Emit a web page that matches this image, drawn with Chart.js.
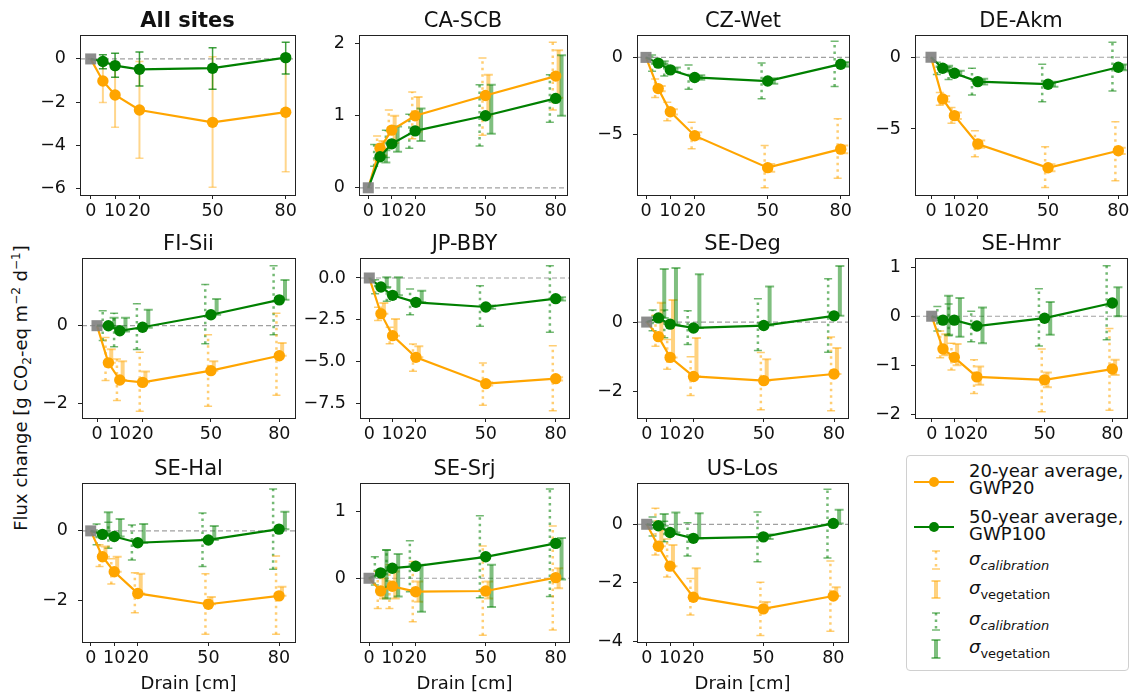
<!DOCTYPE html>
<html>
<head>
<meta charset="utf-8">
<script src="https://cdn.jsdelivr.net/npm/chart.js@4.4.0/dist/chart.umd.min.js"></script>
<style>
  body { margin: 0; width: 1132px; height: 694px; overflow: hidden; position: relative; background: #fff;
         font-family: "DejaVu Sans", sans-serif; color: #111; }
  canvas { position: absolute; }
  #ylabel { position: absolute; left: 20px; top: 388px; transform: translate(-50%, -50%) rotate(-90deg);
            white-space: nowrap; font-size: 18px; }
  #ylabel sub, #ylabel sup { font-size: 12px; line-height: 0; }
  #legende { position: absolute; left: 906px; top: 455px; width: 221px; height: 214px;
             border: 1px solid #d0d0d0; border-radius: 4px; background: #fff; }
  #legende svg { position: absolute; left: 0; top: 0; }
  .lg { position: absolute; left: 62px; font-size: 18px; line-height: 17px; white-space: nowrap; }
  .sig { font-style: italic; font-size: 18px; }
  .sig sub { font-size: 13px; }
</style>
</head>
<body>
<div id="ylabel">Flux change [g CO<sub>2</sub>-eq m<sup>−2</sup> d<sup>−1</sup>]</div>
<div id="legende">
  <svg width="221" height="214">
    <line x1="7" y1="26" x2="47" y2="26" stroke="#ffa500" stroke-width="2.2"/>
    <circle cx="27" cy="26" r="5" fill="#ffa500"/>
    <line x1="7" y1="71" x2="47" y2="71" stroke="#008000" stroke-width="2.2"/>
    <circle cx="27" cy="71" r="5" fill="#008000"/>
    <g stroke="#ffa500" stroke-opacity="0.55">
      <line x1="29" y1="95" x2="29" y2="113" stroke-width="2.5" stroke-dasharray="2.5 4"/>
      <line x1="25" y1="95" x2="33" y2="95" stroke-width="1.5"/>
      <line x1="25" y1="113" x2="33" y2="113" stroke-width="1.5"/>
    </g>
    <g stroke="#ffa500" stroke-opacity="0.5">
      <line x1="29" y1="125" x2="29" y2="142" stroke-width="4"/>
      <line x1="24.5" y1="125" x2="33.5" y2="125" stroke-width="2"/>
      <line x1="24.5" y1="142" x2="33.5" y2="142" stroke-width="2"/>
    </g>
    <g stroke="#008000" stroke-opacity="0.55">
      <line x1="29" y1="157" x2="29" y2="174" stroke-width="2.5" stroke-dasharray="2.5 4"/>
      <line x1="25" y1="157" x2="33" y2="157" stroke-width="1.5"/>
      <line x1="25" y1="174" x2="33" y2="174" stroke-width="1.5"/>
    </g>
    <g stroke="#008000" stroke-opacity="0.5">
      <line x1="29" y1="184" x2="29" y2="202" stroke-width="4"/>
      <line x1="24.5" y1="184" x2="33.5" y2="184" stroke-width="2"/>
      <line x1="24.5" y1="202" x2="33.5" y2="202" stroke-width="2"/>
    </g>
  </svg>
  <div class="lg" style="top:6px">20-year average,<br>GWP20</div>
  <div class="lg" style="top:52px">50-year average,<br>GWP100</div>
  <div class="lg" style="top:94px"><span class="sig">σ<sub>calibration</sub></span></div>
  <div class="lg" style="top:123px"><span class="sig">σ<sub style="font-style:normal">vegetation</sub></span></div>
  <div class="lg" style="top:154px"><span class="sig">σ<sub>calibration</sub></span></div>
  <div class="lg" style="top:182px"><span class="sig">σ<sub style="font-style:normal">vegetation</sub></span></div>
</div>

<script>
// drainage depths [cm] of the scenarios (the reference point sits at 0)
const drains = [5, 10, 20, 50, 80];
const xTicks = [0, 10, 20, 50, 80];

// All sites : mean with one total spread per series
const allOrange = [-1.02, -1.67, -2.37, -2.94, -2.47];
const allGreen = [-0.12, -0.31, -0.48, -0.43, 0.06];
const allOrangeErr = [[-2.02, -0.02], [-3.17, -0.17], [-4.60, -0.12], [-5.95, 0.10], [-5.23, 0.20]];
const allGreenErr = [[-0.46, 0.19], [-0.85, 0.26], [-1.25, 0.32], [-1.41, 0.52], [-0.70, 0.77]];
const allTicks = [0, -2, -4, -6];

// CA-SCB
const caScbOrange = [0.55, 0.80, 1.00, 1.28, 1.55];
const caScbGreen = [0.43, 0.61, 0.79, 1.00, 1.24];
const caScbOrangeCal = [[0.38, 0.72], [0.55, 1.08], [0.68, 1.33], [0.73, 1.80], [1.08, 2.02]];
const caScbOrangeVeg = [[0.45, 0.65], [0.62, 1.00], [0.78, 1.26], [1.00, 1.57], [1.25, 1.91]];
const caScbGreenCal = [[0.30, 0.60], [0.42, 0.80], [0.55, 1.02], [0.58, 1.43], [0.91, 1.57]];
const caScbGreenVeg = [[0.35, 0.52], [0.50, 0.85], [0.65, 1.10], [0.75, 1.43], [1.00, 1.84]];
const caScbTicks = [0, 1, 2];

// CZ-Wet
const czWetOrange = [-2.02, -3.52, -5.07, -7.14, -5.94];
const czWetGreen = [-0.37, -0.81, -1.30, -1.53, -0.44];
const czWetOrangeCal = [[-2.60, -1.40], [-4.10, -2.90], [-5.92, -4.20], [-8.44, -5.70], [-7.83, -3.98]];
const czWetOrangeVeg = [[-2.20, -1.85], [-3.70, -3.35], [-5.30, -4.85], [-7.40, -6.90], [-6.20, -5.70]];
const czWetGreenCal = [[-0.90, 0.15], [-1.20, -0.40], [-2.07, -0.50], [-2.67, -0.37], [-1.89, 1.04]];
const czWetGreenVeg = [[-0.50, -0.25], [-0.95, -0.65], [-1.45, -1.15], [-1.70, -1.35], [-0.60, -0.30]];
const czWetTicks = [0, -5];

// DE-Akm
const deAkmOrange = [-2.91, -4.07, -6.05, -7.70, -6.52];
const deAkmGreen = [-0.77, -1.12, -1.70, -1.88, -0.70];
const deAkmOrangeCal = [[-3.35, -2.45], [-4.60, -3.50], [-6.94, -5.12], [-9.07, -6.24], [-8.60, -4.49]];
const deAkmOrangeVeg = [[-3.10, -2.70], [-4.30, -3.85], [-6.30, -5.80], [-7.95, -7.45], [-6.75, -6.30]];
const deAkmGreenCal = [[-1.20, -0.35], [-1.55, -0.70], [-2.63, -0.77], [-3.10, -0.49], [-2.35, 1.05]];
const deAkmGreenVeg = [[-0.90, -0.60], [-1.30, -0.95], [-1.90, -1.50], [-2.05, -1.70], [-0.90, -0.50]];
const deAkmTicks = [0, -5];

// FI-Sii
const fiSiiOrange = [-0.95, -1.39, -1.45, -1.15, -0.77];
const fiSiiGreen = [0.00, -0.13, -0.04, 0.28, 0.66];
const fiSiiOrangeCal = [[-1.40, -0.30], [-1.91, -0.85], [-2.19, -0.68], [-2.06, -0.23], [-1.78, 0.32]];
const fiSiiOrangeVeg = [[-0.95, -0.60], [-1.39, -0.91], [-1.45, -1.17], [-1.15, -0.91], [-0.77, -0.44]];
const fiSiiGreenCal = [[-0.38, 0.38], [-0.54, 0.32], [-0.61, 0.56], [-0.46, 1.05], [-0.23, 1.53]];
const fiSiiGreenVeg = [[-0.05, 0.20], [-0.15, 0.20], [-0.05, 0.41], [0.28, 0.68], [0.66, 1.17]];
const fiSiiTicks = [0, -2];

// JP-BBY
const jpBbyOrange = [-2.14, -3.46, -4.76, -6.34, -6.04];
const jpBbyGreen = [-0.54, -1.04, -1.46, -1.74, -1.24];
const jpBbyOrangeCal = [[-2.55, -1.75], [-3.95, -2.95], [-5.60, -3.96], [-7.64, -5.10], [-7.96, -4.06]];
const jpBbyOrangeVeg = [[-2.14, -1.50], [-3.46, -2.46], [-4.76, -4.10], [-6.45, -6.25], [-6.15, -5.95]];
const jpBbyGreenCal = [[-0.95, -0.10], [-1.40, -0.60], [-2.20, -0.66], [-2.90, -0.46], [-3.26, 0.74]];
const jpBbyGreenVeg = [[-0.54, 0.04], [-1.04, 0.04], [-1.46, -0.76], [-1.85, -1.65], [-1.35, -1.15]];
const jpBbyTicks = [0, -2.5, -5, -7.5];

// SE-Deg
const seDegOrange = [-0.42, -1.02, -1.57, -1.69, -1.50];
const seDegGreen = [0.12, -0.06, -0.17, -0.10, 0.18];
const seDegOrangeCal = [[-0.70, 0.20], [-1.36, -0.50], [-2.12, -1.00], [-2.53, -0.88], [-2.56, -0.43]];
const seDegOrangeVeg = [[-0.42, 0.56], [-1.02, 0.64], [-1.57, -0.46], [-1.69, -1.07], [-1.50, -0.75]];
const seDegGreenCal = [[-0.25, 0.35], [-0.45, 0.35], [-0.65, 0.33], [-0.82, 0.67], [-0.87, 1.25]];
const seDegGreenVeg = [[0.12, 1.53], [-0.06, 1.56], [-0.17, 1.38], [-0.10, 1.03], [0.18, 1.62]];
const seDegTicks = [0, -2];

// SE-Hmr
const seHmrOrange = [-0.67, -0.84, -1.24, -1.30, -1.08];
const seHmrGreen = [-0.08, -0.08, -0.20, -0.04, 0.27];
const seHmrOrangeCal = [[-0.85, -0.30], [-1.10, -0.55], [-1.58, -0.89], [-1.95, -0.67], [-1.92, -0.25]];
const seHmrOrangeVeg = [[-0.80, -0.37], [-1.00, -0.57], [-1.40, -1.03], [-1.45, -1.15], [-1.20, -0.89]];
const seHmrGreenCal = [[-0.30, 0.20], [-0.40, 0.25], [-0.52, 0.10], [-0.61, 0.56], [-0.48, 1.03]];
const seHmrGreenVeg = [[-0.38, 0.42], [-0.42, 0.37], [-0.55, 0.18], [-0.38, 0.29], [0.00, 0.59]];
const seHmrTicks = [1, 0, -1, -2];

// SE-Hal
const seHalOrange = [-0.74, -1.17, -1.79, -2.10, -1.86];
const seHalGreen = [-0.10, -0.16, -0.34, -0.26, 0.05];
const seHalOrangeCal = [[-1.02, -0.40], [-1.52, -0.80], [-2.34, -1.20], [-2.96, -1.23], [-2.96, -0.72]];
const seHalOrangeVeg = [[-0.74, -0.45], [-1.17, -0.74], [-1.79, -1.23], [-2.10, -1.89], [-1.86, -1.60]];
const seHalGreenCal = [[-0.40, 0.20], [-0.50, 0.25], [-0.83, 0.17], [-1.02, 0.51], [-1.10, 1.20]];
const seHalGreenVeg = [[-0.10, 0.53], [-0.16, 0.34], [-0.34, 0.20], [-0.26, 0.14], [0.05, 0.55]];
const seHalTicks = [0, -2];

// SE-Srj
const seSrjOrange = [-0.19, -0.12, -0.20, -0.19, 0.01];
const seSrjGreen = [0.08, 0.15, 0.18, 0.32, 0.52];
const seSrjOrangeCal = [[-0.45, 0.10], [-0.45, 0.20], [-0.65, 0.25], [-0.85, 0.48], [-0.77, 0.78]];
const seSrjOrangeVeg = [[-0.30, 0.00], [-0.30, 0.10], [-0.35, -0.05], [-0.30, -0.05], [-0.15, 0.15]];
const seSrjGreenCal = [[-0.10, 0.32], [-0.15, 0.42], [-0.20, 0.56], [-0.29, 0.93], [-0.27, 1.33]];
const seSrjGreenVeg = [[-0.30, 0.42], [-0.27, 0.36], [-0.50, 0.20], [-0.43, 0.20], [-0.02, 0.60]];
const seSrjTicks = [1, 0];

// US-Los
const usLosOrange = [-0.75, -1.43, -2.49, -2.89, -2.45];
const usLosGreen = [-0.05, -0.28, -0.48, -0.43, 0.03];
const usLosOrangeCal = [[-1.05, 0.55], [-1.80, -0.50], [-3.10, -1.85], [-3.80, -1.98], [-3.65, -1.25]];
const usLosOrangeVeg = [[-0.75, -0.20], [-1.43, -0.71], [-2.49, -1.50], [-2.89, -2.65], [-2.45, -2.15]];
const usLosGreenCal = [[-0.40, 0.25], [-0.60, 0.10], [-1.08, 0.05], [-1.28, 0.42], [-1.15, 1.20]];
const usLosGreenVeg = [[-0.05, 0.35], [-0.28, 0.40], [-0.48, 0.38], [-0.50, -0.35], [0.03, 0.50]];
const usLosTicks = [0, -2, -4];

const ORANGE = '#ffa500';
const GREEN = '#008000';
const FONT = '"DejaVu Sans", sans-serif';

// horizontal shift of each error bar family, in drain units
const OFFSETS = { greenCal: -2.5, orangeCal: -1.25, orangeVeg: 1.25, greenVeg: 2.5 };

const STYLE_CAL = { width: 2.5, dash: [2.5, 4], alpha: 0.55, cap: 4, capWidth: 1.5 };
const STYLE_VEG = { width: 4, dash: [], alpha: 0.5, cap: 4.5, capWidth: 2 };
const STYLE_ALL_O = { width: 2, dash: [], alpha: 0.45, cap: 4, capWidth: 1.5 };
const STYLE_ALL_G = { width: 1.5, dash: [], alpha: 0.75, cap: 4, capWidth: 1.5 };

const sites = [
  { name: 'All sites', bold: true, orange: allOrange, green: allGreen, ticks: allTicks,
    bars: [[allOrangeErr, 0, ORANGE, STYLE_ALL_O], [allGreenErr, 0, GREEN, STYLE_ALL_G]] },
  { name: 'CA-SCB', orange: caScbOrange, green: caScbGreen, ticks: caScbTicks,
    cal: [caScbOrangeCal, caScbGreenCal], veg: [caScbOrangeVeg, caScbGreenVeg] },
  { name: 'CZ-Wet', orange: czWetOrange, green: czWetGreen, ticks: czWetTicks,
    cal: [czWetOrangeCal, czWetGreenCal], veg: [czWetOrangeVeg, czWetGreenVeg] },
  { name: 'DE-Akm', orange: deAkmOrange, green: deAkmGreen, ticks: deAkmTicks,
    cal: [deAkmOrangeCal, deAkmGreenCal], veg: [deAkmOrangeVeg, deAkmGreenVeg] },
  { name: 'FI-Sii', orange: fiSiiOrange, green: fiSiiGreen, ticks: fiSiiTicks,
    cal: [fiSiiOrangeCal, fiSiiGreenCal], veg: [fiSiiOrangeVeg, fiSiiGreenVeg] },
  { name: 'JP-BBY', orange: jpBbyOrange, green: jpBbyGreen, ticks: jpBbyTicks, decimals: 1,
    cal: [jpBbyOrangeCal, jpBbyGreenCal], veg: [jpBbyOrangeVeg, jpBbyGreenVeg] },
  { name: 'SE-Deg', orange: seDegOrange, green: seDegGreen, ticks: seDegTicks,
    cal: [seDegOrangeCal, seDegGreenCal], veg: [seDegOrangeVeg, seDegGreenVeg] },
  { name: 'SE-Hmr', orange: seHmrOrange, green: seHmrGreen, ticks: seHmrTicks,
    cal: [seHmrOrangeCal, seHmrGreenCal], veg: [seHmrOrangeVeg, seHmrGreenVeg] },
  { name: 'SE-Hal', orange: seHalOrange, green: seHalGreen, ticks: seHalTicks,
    cal: [seHalOrangeCal, seHalGreenCal], veg: [seHalOrangeVeg, seHalGreenVeg] },
  { name: 'SE-Srj', orange: seSrjOrange, green: seSrjGreen, ticks: seSrjTicks,
    cal: [seSrjOrangeCal, seSrjGreenCal], veg: [seSrjOrangeVeg, seSrjGreenVeg] },
  { name: 'US-Los', orange: usLosOrange, green: usLosGreen, ticks: usLosTicks,
    cal: [usLosOrangeCal, usLosGreenCal], veg: [usLosOrangeVeg, usLosGreenVeg] },
];

// plot rectangles [left, top, right, bottom], pixel of x=0 and x=80, y limits
const panelBoxes = [
  { box: [80, 35, 295, 195],   x0: 90.7,  x80: 285.7,  y: [-6.31, 1.11] },
  { box: [359, 35, 567, 195],  x0: 368.3, x80: 555.7,  y: [-0.10, 2.12] },
  { box: [637, 35, 849, 195],  x0: 646,   x80: 840.7,  y: [-8.91, 1.45] },
  { box: [915, 35, 1127, 195], x0: 931,   x80: 1118.3, y: [-9.6, 1.55] },
  { box: [82, 258, 295, 418],  x0: 97,    x80: 279.3,  y: [-2.36, 1.73] },
  { box: [360, 258, 569, 418], x0: 369.3, x80: 555.7,  y: [-8.4, 1.2] },
  { box: [637, 258, 848, 418], x0: 646.7, x80: 834,    y: [-2.77, 1.85] },
  { box: [915, 258, 1127, 418], x0: 931.7, x80: 1112.3, y: [-2.08, 1.19] },
  { box: [82, 483, 295, 642],  x0: 90.7,  x80: 279,    y: [-3.18, 1.37] },
  { box: [360, 483, 569, 642], x0: 369,   x80: 555.7,  y: [-0.95, 1.42] },
  { box: [637, 483, 848, 642], x0: 646.7, x80: 833.3,  y: [-4.02, 1.41] },
];

function drawBar(ctx, xs, ys, x, lo, hi, color, st) {
  const px = xs.getPixelForValue(x);
  const a = ys.getPixelForValue(lo);
  const b = ys.getPixelForValue(hi);
  ctx.save();
  ctx.strokeStyle = color;
  ctx.globalAlpha = st.alpha;
  ctx.lineWidth = st.width;
  ctx.setLineDash(st.dash);
  ctx.beginPath();
  ctx.moveTo(px, a);
  ctx.lineTo(px, b);
  ctx.stroke();
  ctx.setLineDash([]);
  ctx.lineWidth = st.capWidth;
  ctx.beginPath();
  ctx.moveTo(px - st.cap, a); ctx.lineTo(px + st.cap, a);
  ctx.moveTo(px - st.cap, b); ctx.lineTo(px + st.cap, b);
  ctx.stroke();
  ctx.restore();
}

// zero line, error bars, frame and title of one panel
const panelDecor = {
  id: 'panelDecor',
  beforeDatasetsDraw(chart) {
    const { ctx, chartArea: ca, scales: { x, y } } = chart;
    const site = chart.options.plugins.panelDecor.site;
    ctx.save();
    ctx.beginPath();
    ctx.rect(ca.left, ca.top, ca.right - ca.left, ca.bottom - ca.top);
    ctx.clip();
    const y0 = y.getPixelForValue(0);
    ctx.strokeStyle = 'rgba(128,128,128,0.75)';
    ctx.lineWidth = 1.2;
    ctx.setLineDash([5, 3]);
    ctx.beginPath();
    ctx.moveTo(ca.left, y0);
    ctx.lineTo(ca.right, y0);
    ctx.stroke();
    ctx.setLineDash([]);
    const families = [];
    if (site.bars) {
      site.bars.forEach(b => families.push(b));
    } else {
      families.push([site.cal[1], OFFSETS.greenCal, GREEN, STYLE_CAL]);
      families.push([site.cal[0], OFFSETS.orangeCal, ORANGE, STYLE_CAL]);
      families.push([site.veg[0], OFFSETS.orangeVeg, ORANGE, STYLE_VEG]);
      families.push([site.veg[1], OFFSETS.greenVeg, GREEN, STYLE_VEG]);
    }
    families.forEach(([vals, off, color, st]) => {
      vals.forEach((r, i) => drawBar(ctx, x, y, drains[i] + off, r[0], r[1], color, st));
    });
    ctx.restore();
  },
  afterDraw(chart) {
    const { ctx, chartArea: ca } = chart;
    const site = chart.options.plugins.panelDecor.site;
    ctx.save();
    ctx.strokeStyle = '#222';
    ctx.lineWidth = 1;
    ctx.strokeRect(Math.round(ca.left) + 0.5, Math.round(ca.top) + 0.5,
      Math.round(ca.right - ca.left), Math.round(ca.bottom - ca.top));
    ctx.fillStyle = '#111';
    ctx.font = (site.bold ? 'bold ' : '') + '21px ' + FONT;
    ctx.textAlign = 'center';
    ctx.textBaseline = 'alphabetic';
    ctx.fillText(site.name, (ca.left + ca.right) / 2, ca.top - 8);
    ctx.restore();
  }
};

function makePanel(site, lay, bottomRow) {
  const padTop = 40, axW = 75, axH = 55, padRight = 12;
  const [left, top, right, bottom] = lay.box;
  const w = axW + (right - left) + padRight;
  const h = padTop + (bottom - top) + axH;
  const cv = document.createElement('canvas');
  cv.width = w;
  cv.height = h;
  cv.style.left = (left - axW) + 'px';
  cv.style.top = (top - padTop) + 'px';
  cv.style.width = w + 'px';
  cv.style.height = h + 'px';
  document.body.appendChild(cv);

  const s = (lay.x80 - lay.x0) / 80;
  const xmin = -(lay.x0 - left) / s;
  const xmax = 80 + (right - lay.x80) / s;

  const orangePts = [{ x: 0, y: 0 }].concat(drains.map((d, i) => ({ x: d, y: site.orange[i] })));
  const greenPts = [{ x: 0, y: 0 }].concat(drains.map((d, i) => ({ x: d, y: site.green[i] })));
  const radii = [0, 5.7, 5.7, 5.7, 5.7, 5.7];
  const dec = site.decimals || 0;

  new Chart(cv, {
    type: 'line',
    data: {
      datasets: [
        { data: [{ x: 0, y: 0 }], pointStyle: 'rect', pointRadius: 7.8, showLine: false,
          backgroundColor: 'rgba(128,128,128,0.9)', borderWidth: 0 },
        { data: greenPts, borderColor: GREEN, backgroundColor: GREEN, borderWidth: 2.2,
          pointRadius: radii, pointBorderWidth: 0, tension: 0 },
        { data: orangePts, borderColor: ORANGE, backgroundColor: ORANGE, borderWidth: 2.2,
          pointRadius: radii, pointBorderWidth: 0, tension: 0 },
      ]
    },
    options: {
      responsive: false,
      animation: false,
      devicePixelRatio: 1,
      events: [],
      layout: { padding: { top: padTop, right: padRight, left: 0, bottom: 0 } },
      plugins: { legend: { display: false }, tooltip: { enabled: false }, panelDecor: { site } },
      scales: {
        x: {
          type: 'linear', min: xmin, max: xmax,
          afterFit: sc => { sc.height = axH; },
          afterBuildTicks: sc => { sc.ticks = xTicks.map(v => ({ value: v })); },
          ticks: { autoSkip: false, maxRotation: 0, padding: 2, color: '#111',
                   font: { family: FONT, size: 17.5 } },
          grid: { drawOnChartArea: false, tickLength: 4, color: '#222' },
          border: { display: true, color: '#222' },
          title: { display: bottomRow, text: 'Drain [cm]', color: '#111',
                   font: { family: FONT, size: 18 }, padding: { top: 0, bottom: 2 } }
        },
        y: {
          type: 'linear', min: lay.y[0], max: lay.y[1],
          afterFit: sc => { sc.width = axW; },
          afterBuildTicks: sc => { sc.ticks = site.ticks.map(v => ({ value: v })); },
          ticks: { autoSkip: false, padding: 10, color: '#111', font: { family: FONT, size: 17.5 },
                   callback: v => v.toFixed(dec).replace('-', '\u2212') },
          grid: { drawOnChartArea: false, tickLength: 4, color: '#222' },
          border: { display: true, color: '#222' }
        }
      }
    },
    plugins: [panelDecor]
  });
}

sites.forEach((site, i) => makePanel(site, panelBoxes[i], i >= 8));
</script>
</body>
</html>
